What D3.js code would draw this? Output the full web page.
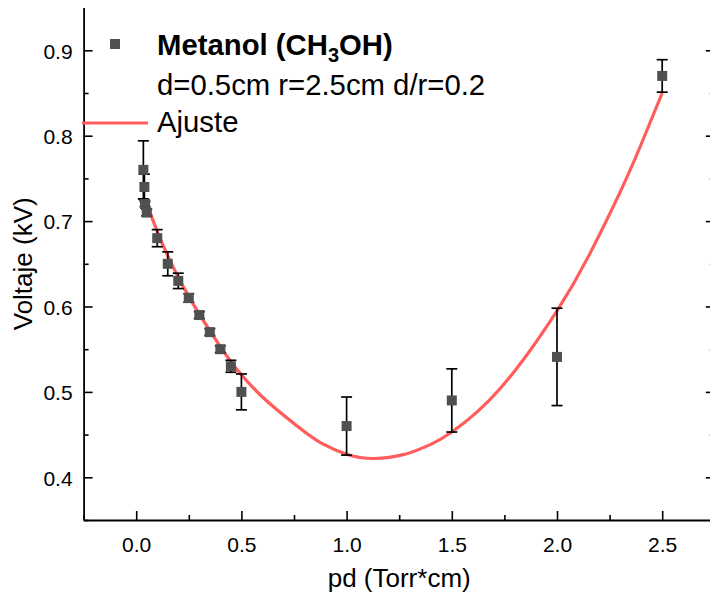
<!DOCTYPE html>
<html><head><meta charset="utf-8">
<script src="https://cdn.jsdelivr.net/npm/d3@7"></script>
<style>body{margin:0;background:#fff}svg{display:block}</style>
</head><body><svg id="c" width="710" height="599"></svg>
<script>
// measured data
const pd      = [0.034,0.039,0.042,0.05,0.10,0.15,0.20,0.25,0.30,0.35,0.40,0.45,0.50,1.00,1.50,2.00,2.50];
const voltaje = [0.760,0.740,0.720,0.710,0.680,0.650,0.630,0.610,0.590,0.570,0.550,0.530,0.500,0.460,0.490,0.541,0.870];
const errV    = [0.034,0.015,0.003,0.004,0.010,0.014,0.009,0.005,0.004,0.004,0.004,0.007,0.021,0.034,0.037,0.057,0.019];
// fit curve
const fitX = [0.045,0.10,0.16,0.256,0.40,0.48,0.60,0.76,0.88,1.00,1.06,1.13,1.27,1.40,1.50,1.73,2.00,2.15,2.30,2.40,2.50];
const fitY = [0.724,0.688,0.654,0.609,0.553,0.526,0.494,0.461,0.440,0.427,0.4234,0.422,0.4265,0.4386,0.453,0.504,0.595,0.659,0.734,0.790,0.850];
const xMajor = [0,0.5,1.0,1.5,2.0,2.5];
const xMinor = [-0.25,0.25,0.75,1.25,1.75,2.25];
const yMajor = [0.4,0.5,0.6,0.7,0.8,0.9];
const yMinor = [0.35,0.45,0.55,0.65,0.75,0.85];
const xLabel = "pd (Torr*cm)";
const yLabel = "Voltaje (kV)";
const legendTitle = ["Metanol (CH","3","OH)"];
const legendSub = "d=0.5cm r=2.5cm d/r=0.2";
const legendFit = "Ajuste";

const FONT = "'Liberation Sans', Arial, sans-serif";
const svg = d3.select("#c");
const x = d3.scaleLinear().domain([-0.25,2.75]).range([83.6,714.8]);
const y = d3.scaleLinear().domain([0.35,0.95]).range([520,7.6]);
const fmt = d3.format(".1f");

function styleAxis(g){
  g.selectAll("path.domain").attr("stroke","#000").attr("stroke-width",1.8);
  g.selectAll(".tick line").attr("stroke","#000").attr("stroke-width",1.6);
  g.selectAll("text").attr("font-family",FONT).attr("font-size",21).attr("fill","#000");
}
// bottom
const gb = svg.append("g").attr("transform",`translate(0,${y(0.35)})`);
gb.call(d3.axisBottom(x).tickValues(xMajor).tickFormat(fmt).tickSize(-9).tickSizeOuter(0).tickPadding(17));
styleAxis(gb);
const gbm = svg.append("g").attr("transform",`translate(0,${y(0.35)})`);
gbm.call(d3.axisBottom(x).tickValues(xMinor).tickFormat("").tickSize(-5).tickSizeOuter(0));
styleAxis(gbm); gbm.select("path.domain").remove();
// left
const gl = svg.append("g").attr("transform",`translate(${x(-0.25)},0)`);
gl.call(d3.axisLeft(y).tickValues(yMajor).tickFormat(fmt).tickSize(-9).tickSizeOuter(0).tickPadding(11));
styleAxis(gl);
gl.selectAll("text").attr("dy","0.37em");
const glm = svg.append("g").attr("transform",`translate(${x(-0.25)},0)`);
glm.call(d3.axisLeft(y).tickValues(yMinor).tickFormat("").tickSize(-5).tickSizeOuter(0));
styleAxis(glm); glm.select("path.domain").remove();
// right (mostly outside the window)
const gr = svg.append("g").attr("transform",`translate(${x(2.75)},0)`);
gr.call(d3.axisRight(y).tickValues(yMajor).tickFormat("").tickSize(-9).tickSizeOuter(0));
styleAxis(gr);
const grm = svg.append("g").attr("transform",`translate(${x(2.75)},0)`);
grm.call(d3.axisRight(y).tickValues(yMinor).tickFormat("").tickSize(-5).tickSizeOuter(0));
styleAxis(grm); grm.select("path.domain").remove();

// axis titles
svg.append("text").attr("x",(x(-0.25)+x(2.75))/2).attr("y",587).attr("text-anchor","middle")
  .attr("font-family",FONT).attr("font-size",26).text(xLabel);
svg.append("text").attr("transform",`translate(32,${(y(0.35)+y(0.95))/2}) rotate(-90)`).attr("text-anchor","middle")
  .attr("font-family",FONT).attr("font-size",26).text(yLabel);

// fit curve
const fitData = fitX.map((d,i)=>[d,fitY[i]]);
svg.append("path").datum(fitData)
  .attr("d",d3.line().x(d=>x(d[0])).y(d=>y(d[1])).curve(d3.curveNatural))
  .attr("fill","none").attr("stroke","#ff5c5c").attr("stroke-width",3.2);

// data + error bars
const data = pd.map((d,i)=>({x:d,y:voltaje[i],e:errV[i]}));
const eb = svg.append("g").attr("stroke","#000").attr("stroke-width",1.7);
data.forEach(d=>{
  const cx = x(d.x), t = y(d.y+d.e), b = y(d.y-d.e);
  eb.append("line").attr("x1",cx).attr("x2",cx).attr("y1",t).attr("y2",b);
  eb.append("line").attr("x1",cx-5.5).attr("x2",cx+5.5).attr("y1",t).attr("y2",t);
  eb.append("line").attr("x1",cx-5.5).attr("x2",cx+5.5).attr("y1",b).attr("y2",b);
});
svg.append("g").selectAll("rect").data(data).join("rect")
  .attr("x",d=>x(d.x)-5).attr("y",d=>y(d.y)-5).attr("width",10).attr("height",10)
  .attr("fill","#505050");

// legend
const LF = 29.3;
const lg = svg.append("g");
lg.append("rect").attr("x",110).attr("y",39).attr("width",10).attr("height",10).attr("fill","#505050");
const t1 = lg.append("text").attr("x",157).attr("y",55).attr("font-family",FONT).attr("font-size",LF).attr("font-weight","bold");
t1.append("tspan").text(legendTitle[0]);
t1.append("tspan").attr("font-size",20).attr("dy",7).text(legendTitle[1]);
t1.append("tspan").attr("dy",-7).text(legendTitle[2]);
lg.append("text").attr("x",157).attr("y",95).attr("font-family",FONT).attr("font-size",LF).text(legendSub);
lg.append("line").attr("x1",82).attr("x2",148).attr("y1",123).attr("y2",123).attr("stroke","#ff5c5c").attr("stroke-width",3.2);
lg.append("text").attr("x",157).attr("y",132).attr("font-family",FONT).attr("font-size",LF).text(legendFit);
</script></body></html>
